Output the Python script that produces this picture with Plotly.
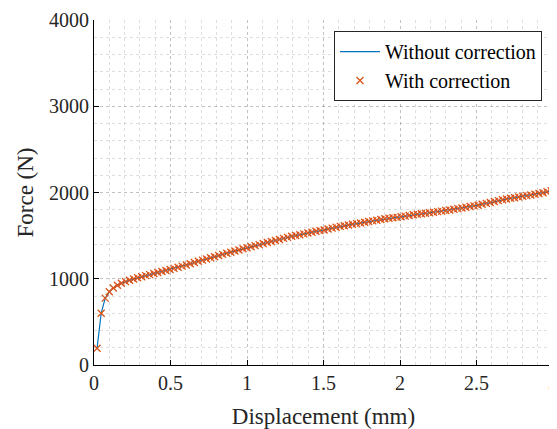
import plotly.graph_objects as go

displacement = [0.020, 0.047, 0.073, 0.100, 0.126, 0.153, 0.179, 0.206, 0.232, 0.259,
                0.285, 0.312, 0.338, 0.364, 0.391, 0.417, 0.444, 0.470, 0.497, 0.523,
                0.550, 0.576, 0.603, 0.629, 0.656, 0.682, 0.709, 0.735, 0.762, 0.788,
                0.815, 0.841, 0.868, 0.894, 0.921, 0.947, 0.974, 1.000, 1.027, 1.053,
                1.080, 1.106, 1.133, 1.159, 1.186, 1.212, 1.239, 1.265, 1.292, 1.318,
                1.345, 1.371, 1.398, 1.424, 1.451, 1.477, 1.504, 1.530, 1.557, 1.583,
                1.610, 1.636, 1.663, 1.689, 1.716, 1.742, 1.769, 1.795, 1.822, 1.848,
                1.875, 1.901, 1.928, 1.954, 1.981, 2.007, 2.034, 2.060, 2.087, 2.113,
                2.140, 2.166, 2.193, 2.219, 2.246, 2.272, 2.299, 2.325, 2.352, 2.378,
                2.405, 2.431, 2.458, 2.484, 2.511, 2.537, 2.564, 2.590, 2.617, 2.643,
                2.670, 2.696, 2.723, 2.749, 2.776, 2.802, 2.829, 2.855, 2.882, 2.908,
                2.935, 2.961, 2.988]

force = [194, 600, 775, 850, 893, 925, 948, 967, 982, 997,
         1011, 1024, 1036, 1048, 1060, 1072, 1084, 1096, 1108, 1120,
         1133, 1146, 1160, 1174, 1188, 1202, 1216, 1229, 1243, 1256,
         1270, 1283, 1296, 1308, 1321, 1334, 1347, 1360, 1372, 1384,
         1396, 1408, 1420, 1432, 1444, 1456, 1468, 1480, 1492, 1502,
         1511, 1520, 1530, 1540, 1550, 1558, 1566, 1576, 1587, 1598,
         1607, 1615, 1623, 1631, 1639, 1647, 1655, 1663, 1671, 1679,
         1687, 1695, 1702, 1707, 1712, 1718, 1726, 1734, 1742, 1748,
         1753, 1759, 1765, 1771, 1778, 1784, 1791, 1798, 1806, 1813,
         1821, 1829, 1837, 1845, 1853, 1863, 1874, 1885, 1896, 1906,
         1916, 1925, 1933, 1940, 1948, 1956, 1964, 1972, 1980, 1988,
         1997, 2008, 2020]

x_tick_vals = [0, 0.5, 1, 1.5, 2, 2.5, 3]
x_tick_text = ["0", "0.5", "1", "1.5", "2", "2.5", "3"]
y_tick_vals = [0, 1000, 2000, 3000, 4000]
y_tick_text = ["0", "1000", "2000", "3000", "4000"]

FONT = "Liberation Serif"
TXT = "#262626"
GRID = "rgba(0,0,0,0.13)"

fig = go.Figure()
fig.add_trace(go.Scatter(
    x=displacement, y=force, mode="lines", name="Without correction",
    line=dict(color="#0072BD", width=1.2)))
fig.add_trace(go.Scatter(
    x=displacement, y=force, mode="markers", name="With correction",
    marker=dict(symbol="x-thin-open", size=7, color="#D95319",
                line=dict(color="#D95319", width=1.3))))

axis_common = dict(
    showline=True, linecolor="black", linewidth=1, mirror=False,
    ticks="inside", ticklen=5, tickcolor="black", tickwidth=1,
    showgrid=True, gridcolor=GRID, griddash="dot", gridwidth=1,
    zeroline=False, automargin=False, ticklabeloverflow="allow",
    tickfont=dict(family=FONT, size=20, color=TXT),
)

fig.update_xaxes(
    range=[0, 3], tickvals=x_tick_vals, ticktext=x_tick_text,
    title=dict(text="Displacement (mm)", font=dict(family=FONT, size=23, color=TXT), standoff=20),
    minor=dict(dtick=0.1, showgrid=True, gridcolor=GRID, griddash="dot", ticks=""),
    **axis_common)
fig.update_yaxes(
    range=[0, 4000], tickvals=y_tick_vals, ticktext=y_tick_text,
    title=dict(text="Force (N)", font=dict(family=FONT, size=23, color=TXT), standoff=8),
    minor=dict(dtick=200, showgrid=True, gridcolor=GRID, griddash="dot", ticks=""),
    **axis_common)

# page body has an 8px margin, so the figure is sized/placed to compensate
fig.update_layout(
    width=549, height=421,
    margin=dict(l=86, r=4, t=12, b=64),
    paper_bgcolor="white", plot_bgcolor="white",
    showlegend=True,
    legend=dict(x=0.976, y=0.968, xanchor="right", yanchor="top",
                bgcolor="white", bordercolor=TXT, borderwidth=1,
                font=dict(family=FONT, size=20, color="black"),
                tracegroupgap=0, itemwidth=40),
)

fig.write_html("out.html")
